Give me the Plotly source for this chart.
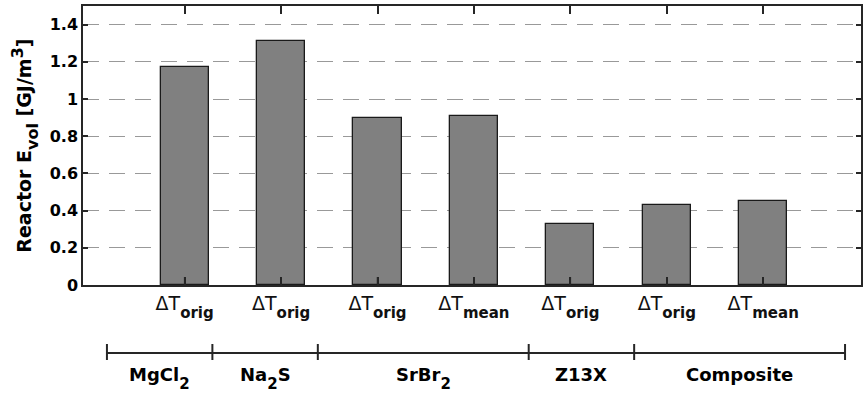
import plotly.graph_objects as go

# ---------------- data ----------------
bar_positions = [1, 2, 3, 4, 5, 6, 7]
delta_subs = ["orig", "orig", "orig", "mean", "orig", "orig", "mean"]
values = [1.17, 1.31, 0.90, 0.91, 0.33, 0.43, 0.45]

group_names = [("MgCl", "2", ""), ("Na", "2", "S"), ("SrBr", "2", ""), ("Z13X", "", ""), ("Composite", "", "")]
group_sizes = [1, 1, 2, 1, 2]

y_ticks = [0, 0.2, 0.4, 0.6, 0.8, 1.0, 1.2, 1.4]


def lowsub(text, size, shift_size):
    """subscript of given size whose baseline shift is 0.3em of 0.7*shift_size"""
    return (f"<span style='font-size:{shift_size}px'><sub>"
            f"<span style='font-size:{size}px'>{text}</span></sub></span>")


tick_labels = ["ΔT" + lowsub(f"<b>{s}</b>", 15, 40) for s in delta_subs]

# ---------------- figure ----------------
FONT = "DejaVu Sans"
AXC = "#262626"
PLOT_W, PLOT_H = 780, 279

fig = go.Figure()
fig.add_trace(go.Bar(
    x=bar_positions, y=values, width=0.5,
    marker=dict(color="#808080", line=dict(color="#1a1a1a", width=1.3)),
    showlegend=False,
))

fig.update_layout(
    width=863, height=393,
    margin=dict(l=83, r=0, t=6, b=108),
    plot_bgcolor="white", paper_bgcolor="white",
    font=dict(family=FONT, color="black"),
    bargap=0,
    xaxis=dict(
        range=[-0.054, 8.014],
        tickmode="array", tickvals=bar_positions, ticktext=tick_labels,
        ticks="inside", ticklen=8, tickwidth=1.5, tickcolor=AXC,
        showline=True, linecolor=AXC, linewidth=1.5, mirror="ticks",
        showgrid=False, zeroline=False,
        tickfont=dict(family=FONT, size=19, color="#111"),
    ),
    yaxis=dict(
        range=[0, 1.5], tickmode="array", tickvals=y_ticks,
        ticks="inside", ticklen=5, tickwidth=1.5, tickcolor=AXC,
        showline=True, linecolor=AXC, linewidth=1.5, mirror="ticks",
        showgrid=True, gridcolor="#999999", gridwidth=1.4, griddash="16px,10px",
        zeroline=False,
        tickfont=dict(family=FONT, size=16, color="black", weight="bold"),
    ),
)

# bottom tick marks must sit on top of the bars
XT = 8 / PLOT_H
for xv in bar_positions:
    fig.add_shape(type="line", xref="x", yref="paper", x0=xv, x1=xv, y0=0, y1=XT,
                  line=dict(color=AXC, width=1.5), layer="above")

# y-axis title
fig.add_annotation(
    text="Reactor E" + lowsub("vol", 16, 34) + " [GJ/m<sup><span style='font-size:16px'>3</span></sup>]",
    xref="paper", yref="paper", x=-0.0756, y=0.5,
    xanchor="center", yanchor="middle", textangle=-90, showarrow=False,
    font=dict(family=FONT, size=19, color="black", weight="bold"),
)

# group bracket below the axis (pixel -> paper helpers)
BR_LEFT, BR_UNIT = 24, 740 / 7


def px(b):
    return (BR_LEFT + BR_UNIT * b) / PLOT_W


def py(pix):
    return (285 - pix) / PLOT_H


bounds = [0]
for s in group_sizes:
    bounds.append(bounds[-1] + s)

fig.add_shape(type="line", xref="paper", yref="paper",
              x0=px(bounds[0]), x1=px(bounds[-1]), y0=py(353), y1=py(353),
              line=dict(color=AXC, width=2))
for b in bounds:
    fig.add_shape(type="line", xref="paper", yref="paper",
                  x0=px(b), x1=px(b), y0=py(344), y1=py(360),
                  line=dict(color=AXC, width=2))
for i, (a, sub, c) in enumerate(group_names):
    txt = a + (lowsub(sub, 15, 40) if sub else "") + c
    fig.add_annotation(
        text=txt, xref="paper", yref="paper",
        x=px((bounds[i] + bounds[i + 1]) / 2), y=py(362),
        xanchor="center", yanchor="top", showarrow=False,
        font=dict(family=FONT, size=18, color="black", weight="bold"),
    )

fig.write_html("out.html")
